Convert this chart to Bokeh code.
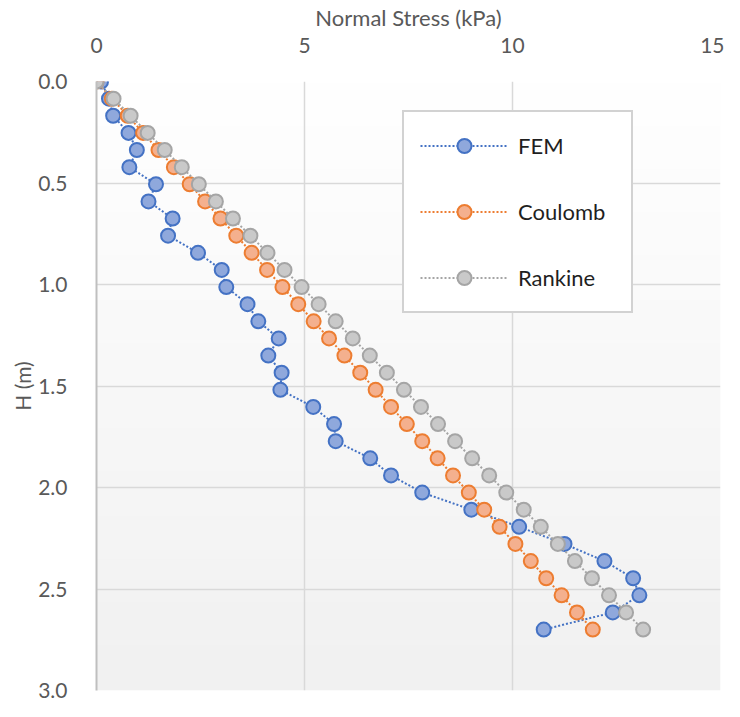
import numpy as np
from bokeh.plotting import figure
from bokeh.layouts import row
from bokeh.models import (Range1d, FixedTicker, Legend, LegendItem, CustomJSTickFormatter,
                          LinearAxis, Spacer)
from bokeh.embed import file_html
from bokeh.resources import INLINE

# Depth (m)
depth = [0.0, 0.0844, 0.1688, 0.2531, 0.3375, 0.4219, 0.5063, 0.5906, 0.675, 0.7594,
         0.8438, 0.9281, 1.0125, 1.0969, 1.1813, 1.2656, 1.35, 1.4344, 1.5188, 1.6031,
         1.6875, 1.7719, 1.8563, 1.9406, 2.025, 2.1094, 2.1938, 2.2781, 2.3625, 2.4469,
         2.5313, 2.6156, 2.7]

fem = [0.11, 0.30, 0.40, 0.77, 0.97, 0.79, 1.43, 1.25, 1.83, 1.72,
       2.44, 3.01, 3.12, 3.63, 3.89, 4.38, 4.13, 4.45, 4.42, 5.21,
       5.71, 5.75, 6.58, 7.08, 7.83, 9.01, 10.16, 11.25, 12.21, 12.90,
       13.05, 12.41, 10.75]

coulomb = [0.0, 0.37, 0.75, 1.12, 1.49, 1.86, 2.24, 2.61, 2.98, 3.36,
           3.73, 4.10, 4.47, 4.85, 5.22, 5.59, 5.96, 6.34, 6.71, 7.08,
           7.46, 7.83, 8.20, 8.57, 8.95, 9.32, 9.69, 10.07, 10.44, 10.81,
           11.18, 11.55, 11.93]

rankine = [0.0, 0.41, 0.82, 1.23, 1.64, 2.05, 2.46, 2.87, 3.28, 3.70,
           4.11, 4.52, 4.93, 5.34, 5.75, 6.16, 6.57, 6.98, 7.39, 7.80,
           8.21, 8.62, 9.03, 9.44, 9.85, 10.27, 10.68, 11.09, 11.50, 11.91,
           12.32, 12.73, 13.14]

x_ticks = [0, 5, 10, 15]
y_ticks = [0.0, 0.5, 1.0, 1.5, 2.0, 2.5, 3.0]

FONT = "Lato"

p = figure(width=717, height=701, output_backend="svg", toolbar_location=None,
           x_range=Range1d(0, 15), y_range=Range1d(3.0, 0.0),
           x_axis_location=None, y_axis_location="left",
           min_border_left=60, min_border_right=4, min_border_top=50, min_border_bottom=11)
p.outline_line_color = None
p.background_fill_color = "white"
p.border_fill_color = "white"

# gradient plot-area background (white at top -> light gray at bottom)
n = 256
t = np.linspace(0, 1, n)
r = (255 - t * (255 - 241)).astype(np.uint32)
img = np.zeros((n, 1), dtype=np.uint32)
view = img.view(dtype=np.uint8).reshape((n, 1, 4))
view[:, 0, 0] = r
view[:, 0, 1] = r
view[:, 0, 2] = r
view[:, 0, 3] = 255
bg = p.image_rgba(image=[img], x=0, y=0, dw=15, dh=3)
bg.level = "image"

# axes
xaxis = LinearAxis(axis_label="Normal Stress (kPa)")
p.add_layout(xaxis, "above")
for ax in p.xaxis:
    ax.ticker = FixedTicker(ticks=x_ticks)
    ax.axis_line_color = None
    ax.major_tick_line_color = None
    ax.minor_tick_line_color = None
    ax.major_label_text_font = FONT
    ax.major_label_text_font_size = "21px"
    ax.major_label_text_color = "#595959"
    ax.major_label_standoff = 23
    ax.axis_label_text_font = FONT
    ax.axis_label_text_font_size = "22px"
    ax.axis_label_text_font_style = "normal"
    ax.axis_label_text_color = "#595959"
    ax.axis_label_standoff = 4

for ax in p.yaxis:
    ax.axis_label = "H (m)"
    ax.ticker = FixedTicker(ticks=y_ticks)
    ax.formatter = CustomJSTickFormatter(code="return tick.toFixed(1);")
    ax.axis_line_color = "#BFBFBF"
    ax.axis_line_width = 2
    ax.major_tick_line_color = None
    ax.minor_tick_line_color = None
    ax.major_label_text_font = FONT
    ax.major_label_text_font_size = "21px"
    ax.major_label_text_color = "#595959"
    ax.major_label_standoff = 23
    ax.axis_label_text_font = FONT
    ax.axis_label_text_font_size = "21px"
    ax.axis_label_text_font_style = "normal"
    ax.axis_label_text_color = "#595959"
    ax.axis_label_standoff = 0

p.xgrid.ticker = FixedTicker(ticks=x_ticks)
p.ygrid.ticker = FixedTicker(ticks=y_ticks)
p.xgrid.grid_line_color = "#D9D9D9"
p.ygrid.grid_line_color = "#D9D9D9"
p.xgrid.grid_line_width = 1.5
p.ygrid.grid_line_width = 1.5

series = [
    ("FEM", fem, "#4472C4", "#8FA8DC", "#4472C4"),
    ("Coulomb", coulomb, "#ED7D31", "#F4B08E", "#ED7D31"),
    ("Rankine", rankine, "#A5A5A5", "#C9C9C9", "#A5A5A5"),
]

items = []
for name, xs, lc, fc, mc in series:
    ln = p.line(xs, depth, line_color=lc, line_width=2, line_dash="2 2")
    sc = p.scatter(xs, depth, size=14, fill_color=fc, line_color=mc, line_width=2)
    items.append(LegendItem(label=name, renderers=[ln, sc]))

legend = Legend(items=items, location=(306, 377))
legend.background_fill_color = "white"
legend.background_fill_alpha = 1.0
legend.border_line_color = "#A6A6A6"
legend.border_line_width = 2
legend.padding = 16
legend.spacing = 31
legend.glyph_width = 88
legend.glyph_height = 35
legend.label_height = 35
legend.label_width = 97
legend.label_standoff = 10
legend.label_text_font = FONT
legend.label_text_font_size = "22px"
legend.label_text_color = "#1F1F1F"
legend.margin = 0
p.add_layout(legend, "center")

layout = row(Spacer(width=7, height=701), p)

open("out.html", "w").write(file_html(layout, INLINE))
